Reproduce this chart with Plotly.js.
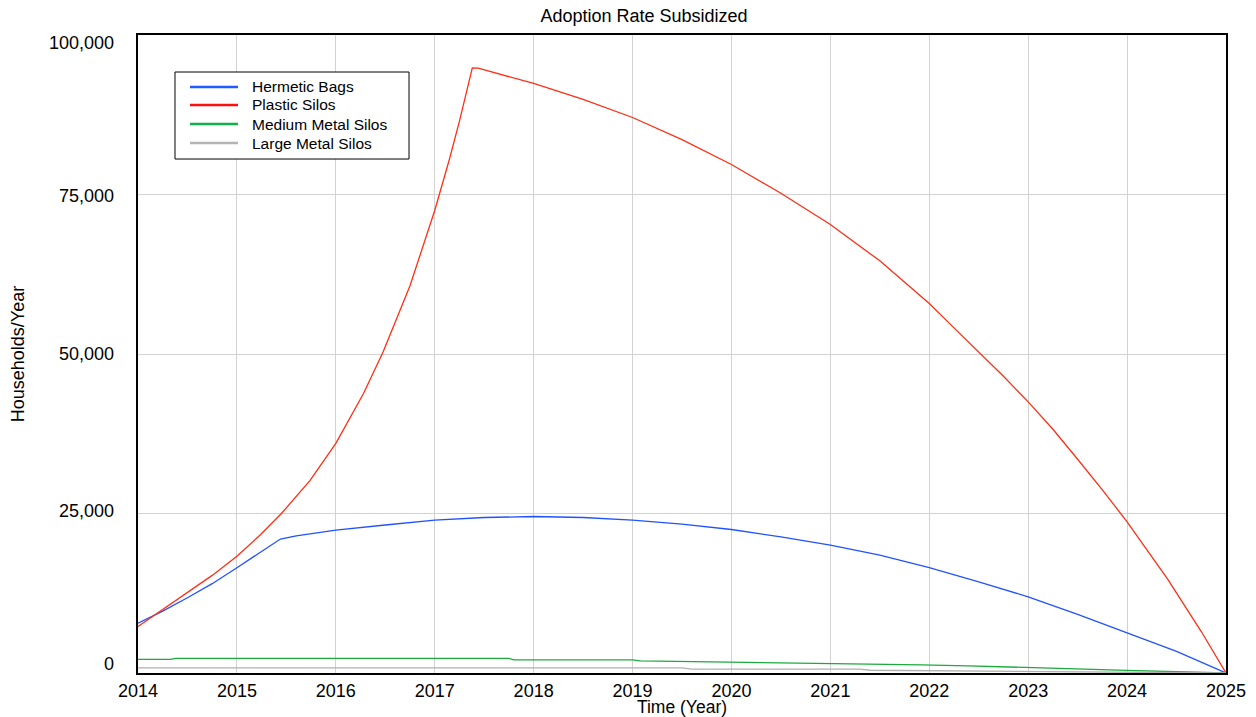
<!DOCTYPE html>
<html>
<head>
<meta charset="utf-8">
<script src="https://cdn.plot.ly/plotly-3.0.1.min.js"></script>
<style>
  html, body { margin: 0; padding: 0; background: #ffffff; }
  #chart { width: 1256px; height: 717px; }
</style>
</head>
<body>
<div id="chart"></div>
<script>
// ---- Data ----
const seriesNames = ["Hermetic Bags", "Plastic Silos", "Medium Metal Silos", "Large Metal Silos"];

const hermeticTime = [2014, 2014.25, 2014.5, 2014.75, 2015, 2015.13, 2015.25, 2015.44, 2015.6, 2016, 2016.5, 2017, 2017.5, 2018, 2018.5, 2019, 2019.5, 2020, 2020.5, 2021, 2021.5, 2022, 2022.5, 2023, 2023.5, 2024, 2024.5, 2025];
const hermeticValues = [7800, 9700, 11800, 14000, 16500, 17800, 19000, 21000, 21500, 22400, 23200, 23950, 24370, 24530, 24370, 23950, 23320, 22490, 21330, 20030, 18460, 16530, 14300, 11930, 9200, 6300, 3400, 0];

const plasticTime = [2014, 2014.25, 2014.5, 2014.75, 2015, 2015.24, 2015.45, 2015.74, 2016, 2016.28, 2016.48, 2016.75, 2017, 2017.08, 2017.15, 2017.25, 2017.38, 2017.44, 2018, 2018.5, 2019, 2019.5, 2020, 2020.5, 2021, 2021.5, 2021.75, 2022, 2022.25, 2022.52, 2022.75, 2023, 2023.25, 2023.5, 2023.75, 2024, 2024.26, 2024.41, 2024.75, 2025];
const plasticValues = [7300, 9950, 12560, 15300, 18300, 21700, 25000, 30200, 36000, 43800, 50400, 60700, 72500, 76800, 80600, 86500, 94850, 94800, 92400, 89900, 87070, 83600, 79700, 75200, 70300, 64600, 61300, 57900, 54100, 50000, 46500, 42500, 38200, 33500, 28700, 23700, 18100, 14700, 6500, 0];

const mediumTime = [2014, 2014.33, 2014.38, 2017.75, 2017.8, 2019.0, 2019.08, 2019.96, 2020.7, 2021.38, 2021.92, 2022.39, 2022.83, 2023.2, 2023.57, 2023.9, 2024.48, 2025];
const mediumValues = [2150, 2150, 2300, 2300, 2050, 2050, 1900, 1740, 1580, 1430, 1270, 1110, 960, 800, 620, 440, 170, 0];

const largeTime = [2014, 2019.5, 2019.6, 2021.3, 2021.4, 2022.55, 2023.54, 2024.3, 2025];
const largeValues = [800, 800, 620, 600, 430, 300, 180, 90, 0];

const xTickVals = [2014, 2015, 2016, 2017, 2018, 2019, 2020, 2021, 2022, 2023, 2024, 2025];
const yTickVals = [0, 25000, 50000, 75000, 100000];
const yTickText = ["0", "25,000", "50,000", "75,000", "100,000"];

// ---- Chart ----
const FONT = "Liberation Sans, Arial, Helvetica, sans-serif";
const colors = ["#2152ff", "#ff2e14", "#1caa3c", "#b0b0b0"];
const legendColors = ["#1f5bff", "#ff1010", "#10b04a", "#b4b4b4"];

const traces = [
  { x: hermeticTime, y: hermeticValues },
  { x: plasticTime, y: plasticValues },
  { x: mediumTime, y: mediumValues },
  { x: largeTime, y: largeValues }
].map((d, i) => ({
  x: d.x, y: d.y, name: seriesNames[i], type: "scatter", mode: "lines",
  line: { color: colors[i], width: 1.3 }, hoverinfo: "x+y+name", showlegend: false
}));

// y tick labels as annotations (the end labels sit inside the range, as in the reference)
const yLabelShift = [9, 3, 0, -1, -8];
const annotations = yTickVals.map((v, i) => ({
  x: 0, xref: "paper", y: v, yref: "y",
  text: yTickText[i], showarrow: false,
  xanchor: "right", yanchor: "middle", xshift: -22, yshift: yLabelShift[i],
  font: { family: FONT, size: 18, color: "#000" }
}));

// legend drawn as a boxed key (paper coordinates)
const legX0 = 0.034, legX1 = 0.2491, legY0 = 0.8056, legY1 = 0.942;
const legLineX0 = 0.0478, legLineX1 = 0.0919, legTextX = 0.1029;
const legRowY = [0.9185, 0.8903, 0.8605, 0.8307];
const shapes = [{
  type: "rect", xref: "paper", yref: "paper",
  x0: legX0, x1: legX1, y0: legY0, y1: legY1,
  line: { color: "#000", width: 1 }, fillcolor: "#ffffff", layer: "above"
}];
seriesNames.forEach((name, i) => {
  shapes.push({
    type: "line", xref: "paper", yref: "paper",
    x0: legLineX0, x1: legLineX1, y0: legRowY[i], y1: legRowY[i],
    line: { color: legendColors[i], width: 2.6 }, layer: "above"
  });
  annotations.push({
    x: legTextX, xref: "paper", y: legRowY[i], yref: "paper",
    text: name, showarrow: false, xanchor: "left", yanchor: "middle",
    font: { family: FONT, size: 15.5, color: "#000" }
  });
});

const layout = {
  width: 1256, height: 717,
  margin: { l: 138, r: 30, t: 35, b: 44 },
  paper_bgcolor: "#ffffff", plot_bgcolor: "#ffffff",
  font: { family: FONT, size: 18, color: "#000" },
  title: {
    text: "Adoption Rate Subsidized",
    font: { family: FONT, size: 18, color: "#000" },
    x: 644 / 1256, xref: "container", xanchor: "center",
    y: 1 - 16 / 717, yref: "container", yanchor: "middle"
  },
  xaxis: {
    range: [2014, 2025], tickvals: xTickVals, ticktext: xTickVals.map(String),
    showgrid: true, gridcolor: "#d2d2d2", gridwidth: 1,
    zeroline: false, showline: true, linecolor: "#000", linewidth: 2, mirror: true,
    ticks: "", ticklabelstandoff: 0,
    tickfont: { family: FONT, size: 18, color: "#000" },
    title: { text: "Time (Year)", font: { family: FONT, size: 17.5, color: "#000" }, standoff: 3 },
    automargin: false
  },
  yaxis: {
    range: [0, 100000], tickvals: yTickVals, ticktext: yTickText,
    showticklabels: false,
    showgrid: true, gridcolor: "#d2d2d2", gridwidth: 1,
    zeroline: false, showline: true, linecolor: "#000", linewidth: 2, mirror: true,
    ticks: "",
    title: { text: "Households/Year", font: { family: FONT, size: 18, color: "#000" }, standoff: 107 },
    automargin: false
  },
  showlegend: false,
  shapes: shapes,
  annotations: annotations
};

Plotly.newPlot("chart", traces, layout, { displayModeBar: false, staticPlot: true });
</script>
</body>
</html>
